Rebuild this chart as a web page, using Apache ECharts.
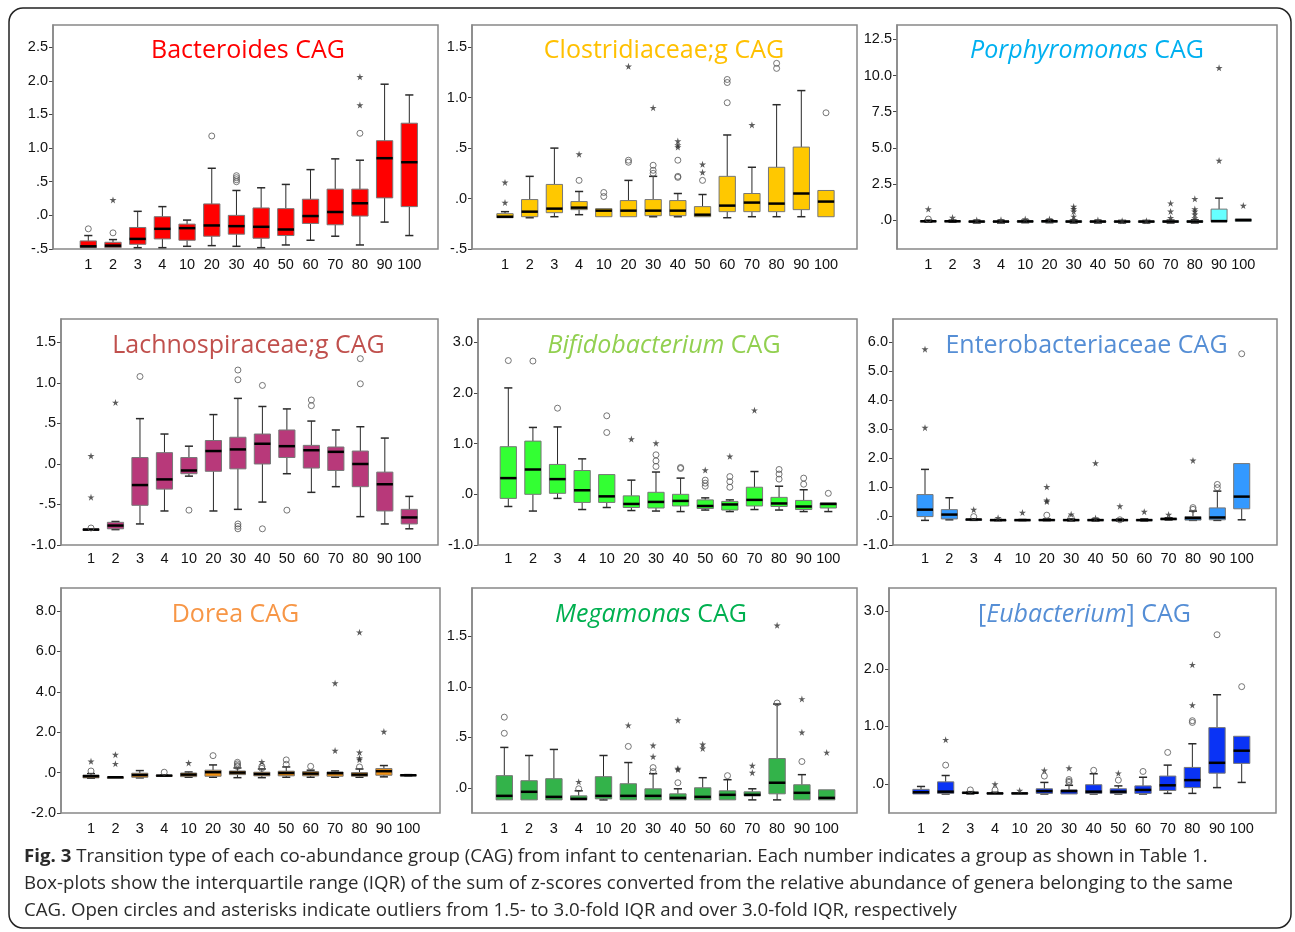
<!DOCTYPE html>
<html><head><meta charset="utf-8">
<script src="https://cdn.jsdelivr.net/npm/echarts@6/dist/echarts.min.js"></script>
<style>html,body{margin:0;padding:0;background:#fff}#c{width:1295px;height:932px}</style>
</head><body><div id="c"></div>
<script>
const groups = ['1','2','3','4','10','20','30','40','50','60','70','80','90','100'];

// Box values: [min, Q1, median, Q3, max] per group
const bacteroidesBox = [[-0.48,-0.48,-0.46,-0.38,-0.30],[-0.48,-0.48,-0.45,-0.40,-0.36],[-0.48,-0.43,-0.35,-0.18,0.06],[-0.48,-0.35,-0.20,-0.02,0.13],[-0.46,-0.37,-0.19,-0.13,-0.07],[-0.45,-0.31,-0.15,0.17,0.70],[-0.46,-0.28,-0.16,0.00,0.37],[-0.48,-0.34,-0.17,0.11,0.41],[-0.44,-0.30,-0.21,0.10,0.46],[-0.37,-0.12,-0.01,0.24,0.68],[-0.31,-0.14,0.05,0.39,0.84],[-0.44,-0.01,0.18,0.39,0.82],[-0.10,0.26,0.85,1.11,1.95],[-0.30,0.13,0.79,1.37,1.79]];
const bacteroidesCircles = [['1',-0.20],['2',-0.26],['20',1.18],['30',0.59],['30',0.56],['30',0.53],['30',0.50],['80',1.22]];
const bacteroidesStars = [['2',0.23],['80',1.64],['80',2.06]];
const bacteroidesTicks = [-0.5,0,0.5,1,1.5,2,2.5];

const clostridiaceaeBox = [[-0.19,-0.19,-0.18,-0.15,-0.13],[-0.19,-0.18,-0.13,-0.01,0.22],[-0.18,-0.14,-0.10,0.14,0.50],[-0.16,-0.11,-0.09,-0.03,0.07],[-0.18,-0.18,-0.12,-0.10,-0.10],[-0.18,-0.18,-0.12,-0.02,0.18],[-0.18,-0.17,-0.12,-0.01,0.22],[-0.18,-0.17,-0.12,-0.02,0.05],[-0.18,-0.18,-0.16,-0.08,0.04],[-0.19,-0.13,-0.07,0.22,0.63],[-0.18,-0.13,-0.04,0.05,0.31],[-0.18,-0.13,-0.05,0.31,0.93],[-0.18,-0.11,0.05,0.51,1.07],[-0.18,-0.18,-0.03,0.08,0.08]];
const clostridiaceaeCircles = [['4',0.18],['10',0.06],['10',0.02],['20',0.38],['20',0.36],['30',0.33],['30',0.28],['30',0.25],['40',0.22],['40',0.21],['40',0.38],['50',0.18],['60',1.18],['60',1.15],['60',0.95],['80',1.34],['80',1.29],['100',0.85]];
const clostridiaceaeStars = [['1',0.16],['1',-0.04],['4',0.44],['20',1.31],['30',0.90],['40',0.57],['40',0.53],['40',0.51],['50',0.34],['50',0.26],['70',0.73]];
const clostridiaceaeTicks = [-0.5,0,0.5,1,1.5];

const porphyromonasBox = [[-0.15,-0.12,-0.08,-0.05,0.0],[-0.15,-0.12,-0.08,-0.05,0.0],[-0.2,-0.15,-0.1,-0.06,-0.02],[-0.2,-0.15,-0.1,-0.06,-0.02],[-0.18,-0.14,-0.09,-0.05,0.0],[-0.18,-0.14,-0.08,-0.04,0.02],[-0.2,-0.15,-0.1,-0.05,0.0],[-0.2,-0.15,-0.1,-0.06,-0.02],[-0.2,-0.15,-0.1,-0.06,-0.02],[-0.2,-0.15,-0.1,-0.06,-0.02],[-0.2,-0.15,-0.1,-0.05,0.0],[-0.2,-0.15,-0.1,-0.04,0.02],[-0.12,-0.12,-0.07,0.76,1.52],[-0.08,-0.08,0.0,0.08,0.08]];
const porphyromonasCircles = [['1',0.07]];
const porphyromonasStars = [['1',0.76],['2',0.18],['3',0.0],['4',0.02],['10',0.07],['20',0.07],['30',0.94],['30',0.78],['30',0.60],['30',0.25],['30',0.02],['40',0.0],['50',-0.05],['60',-0.05],['70',1.17],['70',0.60],['70',0.16],['80',1.47],['80',0.76],['80',0.60],['80',0.40],['80',0.14],['90',4.12],['90',10.54],['100',1.01]];
const porphyromonasTicks = [0,2.5,5,7.5,10,12.5];

const lachnospiraceaeBox = [[-0.82,-0.82,-0.81,-0.80,-0.80],[-0.81,-0.80,-0.76,-0.72,-0.71],[-0.74,-0.51,-0.26,0.08,0.56],[-0.58,-0.31,-0.19,0.14,0.37],[-0.15,-0.12,-0.08,0.08,0.22],[-0.58,-0.09,0.16,0.29,0.61],[-0.56,-0.06,0.18,0.33,0.81],[-0.47,0.00,0.25,0.37,0.71],[-0.12,0.08,0.22,0.42,0.68],[-0.35,-0.05,0.17,0.23,0.53],[-0.28,-0.08,0.15,0.21,0.42],[-0.65,-0.28,0.00,0.16,0.46],[-0.74,-0.58,-0.25,-0.10,0.32],[-0.80,-0.74,-0.66,-0.56,-0.40]];
const lachnospiraceaeCircles = [['1',-0.79],['3',1.08],['10',-0.57],['30',1.16],['30',1.04],['30',-0.74],['30',-0.77],['30',-0.80],['40',0.97],['40',-0.80],['50',-0.57],['60',0.79],['60',0.72],['80',1.30],['80',0.99]];
const lachnospiraceaeStars = [['1',0.10],['1',-0.41],['2',0.76]];
const lachnospiraceaeTicks = [-1,-0.5,0,0.5,1,1.5];

const bifidobacteriumBox = [[-0.24,-0.08,0.32,0.94,2.10],[-0.33,0.00,0.49,1.05,1.32],[-0.08,0.02,0.30,0.59,1.33],[-0.30,-0.16,0.08,0.47,0.70],[-0.26,-0.16,-0.04,0.39,0.39],[-0.32,-0.26,-0.19,-0.03,0.28],[-0.33,-0.27,-0.15,0.04,0.44],[-0.34,-0.23,-0.13,0.00,0.32],[-0.31,-0.28,-0.23,-0.11,-0.07],[-0.34,-0.31,-0.20,-0.14,-0.11],[-0.30,-0.23,-0.11,0.14,0.45],[-0.31,-0.24,-0.18,-0.06,0.16],[-0.34,-0.30,-0.24,-0.12,0.09],[-0.34,-0.27,-0.19,-0.17,-0.17]];
const bifidobacteriumCircles = [['1',2.64],['2',2.63],['3',1.70],['10',1.55],['10',1.22],['30',0.78],['30',0.66],['30',0.55],['40',0.53],['40',0.51],['50',0.28],['50',0.22],['50',0.16],['60',0.35],['60',0.25],['60',0.14],['80',0.49],['80',0.40],['80',0.30],['90',0.32],['90',0.20],['100',0.02]];
const bifidobacteriumStars = [['20',1.09],['30',1.01],['50',0.48],['60',0.75],['70',1.66]];
const bifidobacteriumTicks = [-1,0,1,2,3];

const enterobacteriaceaeBox = [[-0.15,-0.02,0.22,0.74,1.61],[-0.13,-0.10,0.05,0.22,0.63],[-0.15,-0.14,-0.12,-0.11,-0.10],[-0.16,-0.15,-0.14,-0.13,-0.12],[-0.16,-0.15,-0.14,-0.13,-0.12],[-0.16,-0.15,-0.14,-0.12,-0.10],[-0.17,-0.16,-0.14,-0.12,-0.10],[-0.17,-0.16,-0.14,-0.12,-0.10],[-0.17,-0.16,-0.14,-0.12,-0.10],[-0.17,-0.16,-0.14,-0.12,-0.10],[-0.14,-0.13,-0.10,-0.08,-0.06],[-0.15,-0.14,-0.07,-0.02,0.17],[-0.15,-0.13,-0.05,0.28,0.86],[-0.13,0.25,0.67,1.81,1.81]];
const enterobacteriaceaeCircles = [['3',-0.02],['20',0.03],['30',-0.05],['50',-0.13],['80',0.29],['80',0.23],['90',1.09],['90',0.98],['100',5.60]];
const enterobacteriaceaeStars = [['1',3.05],['1',5.76],['3',0.22],['4',-0.06],['10',0.12],['20',1.01],['20',0.54],['20',0.50],['30',0.06],['40',1.83],['40',-0.07],['50',0.34],['60',0.15],['70',0.05],['80',1.92]];
const enterobacteriaceaeTicks = [-1,0,1,2,3,4,5,6];

const doreaBox = [[-0.28,-0.26,-0.18,-0.12,-0.05],[-0.23,-0.23,-0.23,-0.23,-0.23],[-0.26,-0.23,-0.12,-0.03,0.10],[-0.18,-0.17,-0.15,-0.13,-0.12],[-0.23,-0.20,-0.10,-0.02,0.03],[-0.23,-0.18,0.02,0.12,0.38],[-0.25,-0.10,0.00,0.08,0.23],[-0.25,-0.16,-0.07,0.02,0.18],[-0.23,-0.16,-0.02,0.07,0.28],[-0.23,-0.16,-0.05,0.05,0.12],[-0.23,-0.18,-0.03,0.03,0.08],[-0.23,-0.18,-0.10,0.00,0.18],[-0.21,-0.13,0.07,0.20,0.35],[-0.16,-0.15,-0.13,-0.11,-0.10]];
const doreaCircles = [['1',0.08],['4',0.02],['20',0.84],['30',0.51],['30',0.43],['30',0.35],['30',0.30],['40',0.31],['40',0.21],['50',0.63],['50',0.41],['60',0.31],['80',0.28]];
const doreaStars = [['1',0.56],['2',0.89],['2',0.44],['10',0.48],['40',0.53],['70',1.09],['70',4.43],['80',1.00],['80',0.72],['80',0.64],['80',6.95],['90',2.03]];
const doreaTicks = [-2,0,2,4,6,8];

const megamonasBox = [[-0.12,-0.12,-0.08,0.12,0.40],[-0.12,-0.12,-0.04,0.07,0.32],[-0.12,-0.12,-0.09,0.09,0.38],[-0.12,-0.12,-0.11,-0.08,-0.03],[-0.12,-0.11,-0.08,0.11,0.32],[-0.12,-0.12,-0.08,0.04,0.25],[-0.12,-0.12,-0.08,-0.01,0.14],[-0.12,-0.12,-0.10,-0.06,-0.01],[-0.12,-0.12,-0.09,0.00,0.10],[-0.12,-0.12,-0.07,-0.03,0.08],[-0.12,-0.08,-0.07,-0.04,-0.01],[-0.12,-0.06,0.05,0.29,0.83],[-0.12,-0.12,-0.05,0.03,0.13],[-0.12,-0.12,-0.10,-0.02,-0.02]];
const megamonasCircles = [['1',0.70],['1',0.54],['4',-0.01],['20',0.41],['30',0.20],['30',0.16],['40',0.05],['60',0.12],['80',0.84],['90',0.26]];
const megamonasStars = [['4',0.06],['20',0.62],['30',0.42],['30',0.31],['40',0.19],['40',0.18],['40',0.67],['50',0.43],['50',0.39],['70',0.22],['70',0.15],['80',1.61],['90',0.55],['90',0.88],['100',0.35]];
const megamonasTicks = [0,0.5,1,1.5];

const eubacteriumBox = [[-0.17,-0.17,-0.14,-0.09,-0.04],[-0.17,-0.16,-0.13,0.04,0.15],[-0.17,-0.16,-0.15,-0.14,-0.13],[-0.17,-0.17,-0.16,-0.15,-0.14],[-0.17,-0.17,-0.16,-0.15,-0.15],[-0.17,-0.16,-0.12,-0.08,0.03],[-0.17,-0.17,-0.12,-0.10,-0.02],[-0.17,-0.16,-0.13,-0.01,0.18],[-0.17,-0.16,-0.13,-0.08,-0.03],[-0.17,-0.16,-0.10,-0.03,0.12],[-0.16,-0.11,-0.02,0.14,0.33],[-0.16,-0.06,0.07,0.29,0.70],[-0.06,0.19,0.37,0.98,1.55],[0.03,0.36,0.58,0.83,0.83]];
const eubacteriumCircles = [['2',0.33],['3',-0.10],['4',-0.10],['20',0.14],['30',0.08],['30',0.05],['30',0.03],['40',0.24],['50',0.07],['60',0.22],['70',0.55],['80',1.10],['80',1.07],['90',2.59],['100',1.69]];
const eubacteriumStars = [['2',0.77],['4',0.00],['10',-0.11],['20',0.24],['30',0.28],['50',0.19],['80',1.37],['80',2.07]];
const eubacteriumTicks = [0,1,2,3];

const captionLines = [
  ['Fig. 3', ' Transition type of each co-abundance group (CAG) from infant to centenarian. Each number indicates a group as shown in Table 1.'],
  ['', 'Box-plots show the interquartile range (IQR) of the sum of z-scores converted from the relative abundance of genera belonging to the same'],
  ['', 'CAG. Open circles and asterisks indicate outliers from 1.5- to 3.0-fold IQR and over 3.0-fold IQR, respectively']
];

// Panel definitions (text + styling + axis extents)
const panels = [
  {title:[['r','Bacteroides CAG']], titleColor:'#ff0000', fill:'#ff0000', box:bacteroidesBox, circles:bacteroidesCircles, stars:bacteroidesStars, ticks:bacteroidesTicks, yMin:-0.5, yMax:2.83},
  {title:[['r','Clostridiaceae;g CAG']], titleColor:'#ffc000', fill:'#ffc800', box:clostridiaceaeBox, circles:clostridiaceaeCircles, stars:clostridiaceaeStars, ticks:clostridiaceaeTicks, yMin:-0.5, yMax:1.72},
  {title:[['i','Porphyromonas'],['r',' CAG']], titleColor:'#00b0f0', fill:'#66ffff', box:porphyromonasBox, circles:porphyromonasCircles, stars:porphyromonasStars, ticks:porphyromonasTicks, yMin:-2, yMax:13.5},
  {title:[['r','Lachnospiraceae;g CAG']], titleColor:'#c0504d', fill:'#b8397a', box:lachnospiraceaeBox, circles:lachnospiraceaeCircles, stars:lachnospiraceaeStars, ticks:lachnospiraceaeTicks, yMin:-1, yMax:1.79},
  {title:[['i','Bifidobacterium'],['r',' CAG']], titleColor:'#92d050', fill:'#33ff33', box:bifidobacteriumBox, circles:bifidobacteriumCircles, stars:bifidobacteriumStars, ticks:bifidobacteriumTicks, yMin:-1, yMax:3.46},
  {title:[['r','Enterobacteriaceae CAG']], titleColor:'#558ed5', fill:'#3399ff', box:enterobacteriaceaeBox, circles:enterobacteriaceaeCircles, stars:enterobacteriaceaeStars, ticks:enterobacteriaceaeTicks, yMin:-1, yMax:6.8},
  {title:[['r','Dorea CAG']], titleColor:'#f79646', fill:'#f39212', box:doreaBox, circles:doreaCircles, stars:doreaStars, ticks:doreaTicks, yMin:-2, yMax:9.14},
  {title:[['i','Megamonas'],['r',' CAG']], titleColor:'#00b050', fill:'#33b34a', box:megamonasBox, circles:megamonasCircles, stars:megamonasStars, ticks:megamonasTicks, yMin:-0.25, yMax:1.98},
  {title:[['r','['],['i','Eubacterium'],['r','] CAG']], titleColor:'#558ed5', fill:'#0a33f5', box:eubacteriumBox, circles:eubacteriumCircles, stars:eubacteriumStars, ticks:eubacteriumTicks, yMin:-0.5, yMax:3.4}
];

// Layout: frame [left, right, top, bottom], first/last category centre, title centre, label margin
const layout = [
  {L:53, R:438, T:25, B:249, c1:88.3, cN:409.3, tx:248, ty:51, lm:8},
  {L:472, R:857, T:25, B:249, c1:505, cN:826, tx:664, ty:51, lm:8},
  {L:897, R:1277, T:25, B:249, c1:928.3, cN:1243.3, tx:1087, ty:51, lm:8},
  {L:61, R:438, T:319, B:545, c1:91, cN:409.3, tx:248.5, ty:346, lm:6},
  {L:478, R:857, T:319, B:545, c1:508.3, cN:828.3, tx:664, ty:346, lm:6},
  {L:893, R:1277, T:319, B:545, c1:925, cN:1241.7, tx:1086.5, ty:346, lm:6},
  {L:61, R:440, T:588, B:813, c1:91, cN:408.3, tx:235.5, ty:615, lm:8},
  {L:472, R:857, T:588, B:813, c1:504.3, cN:826.7, tx:651, ty:615, lm:8},
  {L:889, R:1276, T:588, B:813, c1:921, cN:1241.7, tx:1084.5, ty:615, lm:8}
];

const AX_FONT = '"Liberation Sans", Arial, sans-serif';
const TITLE_FONT = '"Open Sans", "Noto Sans", sans-serif';
const STAR = 'path://M50,0 L61,35 L98,35 L68,57 L79,91 L50,70 L21,91 L32,57 L2,35 L39,35 Z';

function fmt(v) {
  let s = (Math.round(v * 10) / 10).toFixed(1);
  return s.replace(/^(-?)0\./, '$1.');
}

function boxRenderer(color) {
  return function (params, api) {
    const ci = api.value(0);
    const v = [1, 2, 3, 4, 5].map(d => api.value(d));
    const x = api.coord([ci, 0])[0];
    const band = api.size([1, 0])[0];
    const bw = band * 0.66, cw = bw * 0.5;
    const y = v.map(val => api.coord([ci, val])[1]);
    const wStyle = {stroke: '#2a2a2a', lineWidth: 1};
    const ch = [];
    if (v[4] > v[3] + 1e-9) {
      ch.push({type:'line', shape:{x1:x, y1:y[3], x2:x, y2:y[4]}, style:wStyle});
      ch.push({type:'line', shape:{x1:x - cw/2, y1:y[4], x2:x + cw/2, y2:y[4]}, style:{stroke:'#2a2a2a', lineWidth:1.5}});
    }
    if (v[0] < v[1] - 1e-9) {
      ch.push({type:'line', shape:{x1:x, y1:y[1], x2:x, y2:y[0]}, style:wStyle});
      ch.push({type:'line', shape:{x1:x - cw/2, y1:y[0], x2:x + cw/2, y2:y[0]}, style:{stroke:'#2a2a2a', lineWidth:1.5}});
    }
    ch.push({type:'rect', shape:{x:x - bw/2, y:y[3], width:bw, height:Math.max(y[1] - y[3], 1)}, style:{fill:color, stroke:'#777', lineWidth:1}});
    ch.push({type:'line', shape:{x1:x - bw/2, y1:y[2], x2:x + bw/2, y2:y[2]}, style:{stroke:'#000', lineWidth:2.5}});
    return {type:'group', children:ch};
  };
}

const grids = [], xAxes = [], yAxes = [], series = [], graphics = [];

panels.forEach((p, i) => {
  const lo = layout[i];
  const band = (lo.cN - lo.c1) / (groups.length - 1);
  const gl = lo.c1 - band / 2;
  const gw = band * groups.length;
  grids.push({left: gl, top: lo.T, width: gw, height: lo.B - lo.T, outerBoundsMode: 'none', containLabel: false});
  xAxes.push({
    type: 'category', gridIndex: i, data: groups, boundaryGap: true,
    axisLine: {show: false}, axisTick: {show: false}, splitLine: {show: false},
    axisLabel: {interval: 0, fontSize: 14.5, fontFamily: AX_FONT, color: '#111', margin: lo.lm}
  });
  yAxes.push({
    type: 'value', gridIndex: i, min: p.yMin, max: p.yMax, offset: gl - lo.L,
    axisLine: {show: true, lineStyle: {color: '#888', width: 1.5}},
    axisTick: {show: true, length: 4, customValues: p.ticks, lineStyle: {color: '#444', width: 1}},
    axisLabel: {customValues: p.ticks, formatter: fmt, fontSize: 14.5, fontFamily: AX_FONT, color: '#111', margin: 5},
    splitLine: {show: false}
  });
  series.push({
    type: 'custom', xAxisIndex: i, yAxisIndex: i,
    data: p.box.map((b, k) => [groups[k]].concat(b)),
    encode: {x: 0, y: [1, 2, 3, 4, 5]},
    renderItem: boxRenderer(p.fill), z: 3, silent: true
  });
  series.push({
    type: 'scatter', xAxisIndex: i, yAxisIndex: i, data: p.circles,
    symbol: 'circle', symbolSize: 6, z: 4, silent: true,
    itemStyle: {color: 'rgba(255,255,255,0)', borderColor: '#555', borderWidth: 1}
  });
  series.push({
    type: 'scatter', xAxisIndex: i, yAxisIndex: i, data: p.stars,
    symbol: STAR, symbolSize: 7, z: 4, silent: true,
    itemStyle: {color: '#333'}
  });
  graphics.push({type: 'rect', shape: {x: lo.L, y: lo.T, width: lo.R - lo.L, height: lo.B - lo.T},
    style: {fill: 'none', stroke: '#888', lineWidth: 1.5}, z: 1, silent: true});
  const rich = {
    r: {fontSize: 25, fontFamily: TITLE_FONT, fontStyle: 'normal', fill: p.titleColor, fontWeight: 'normal'},
    i: {fontSize: 25, fontFamily: TITLE_FONT, fontStyle: 'italic', fill: p.titleColor, fontWeight: 'normal'}
  };
  graphics.push({type: 'text', x: lo.tx, y: lo.ty, z: 10, silent: true,
    style: {text: p.title.map(t => '{' + t[0] + '|' + t[1] + '}').join(''), rich: rich,
      fontSize: 25, fontFamily: TITLE_FONT, fill: p.titleColor, align: 'center', verticalAlign: 'middle'}});
});

// caption
const CAP_FONT = '"Open Sans", "Noto Sans", sans-serif';
const capSize = 18.5;
const ctx = document.createElement('canvas').getContext('2d');
ctx.font = capSize + 'px ' + CAP_FONT;
const capScale = (1233 - 24) / ctx.measureText(captionLines[1][1]).width;
const capY = [857, 884, 911];
captionLines.forEach((ln, k) => {
  const txt = (ln[0] ? '{b|' + ln[0] + '}' : '') + '{n|' + ln[1] + '}';
  graphics.push({type: 'text', x: 24, y: capY[k], scaleX: capScale, scaleY: 1, silent: true,
    style: {text: txt, align: 'left', verticalAlign: 'middle', fontSize: capSize, fontFamily: CAP_FONT, fill: '#2a2a2a',
      rich: {b: {fontSize: capSize, fontFamily: CAP_FONT, fontWeight: 'bold', fill: '#2a2a2a'},
             n: {fontSize: capSize, fontFamily: CAP_FONT, fontWeight: 'normal', fill: '#2a2a2a'}}}});
});
graphics.push({type: 'rect', shape: {x: 9, y: 8, width: 1282, height: 920, r: 14},
  style: {fill: 'none', stroke: '#222', lineWidth: 1.5}, silent: true});

const chart = echarts.init(document.getElementById('c'), null, {renderer: 'canvas'});
chart.setOption({
  animation: false,
  backgroundColor: '#fff',
  textStyle: {fontFamily: AX_FONT},
  grid: grids, xAxis: xAxes, yAxis: yAxes, series: series,
  graphic: {elements: graphics}
});
</script></body></html>
